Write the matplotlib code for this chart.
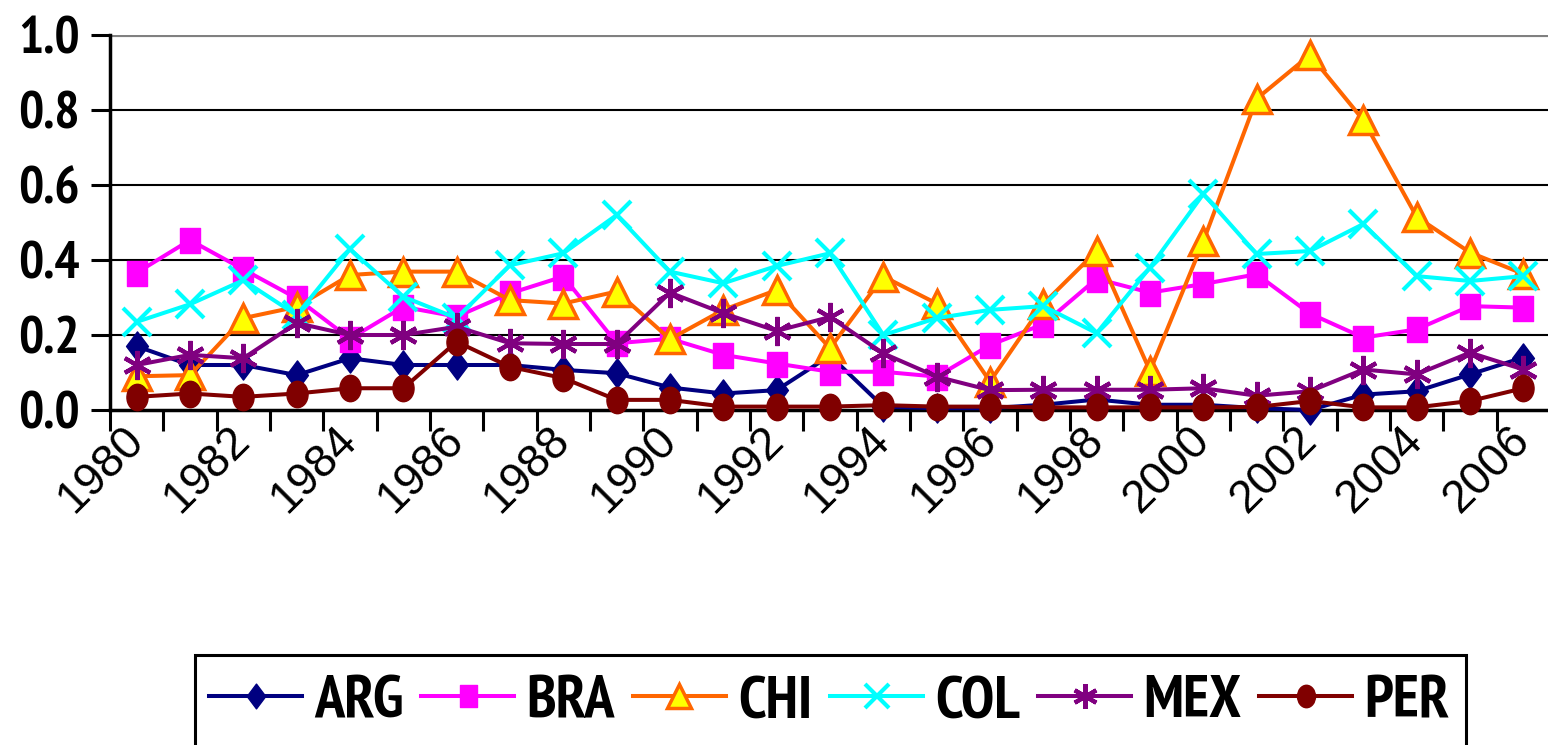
import matplotlib
matplotlib.use("Agg")
import matplotlib.pyplot as plt
from matplotlib.path import Path
from matplotlib.patches import Rectangle
from matplotlib import font_manager as fm
import numpy as np

years = list(range(1980, 2007))
ARG = [0.17,0.12,0.12,0.093,0.138,0.12,0.12,0.12,0.107,0.098,0.06,0.044,0.053,0.145,0.009,0.005,0.005,0.014,0.028,0.014,0.014,0.005,0.0,0.041,0.05,0.095,0.14]
BRA = [0.366,0.453,0.375,0.298,0.19,0.275,0.249,0.311,0.356,0.178,0.19,0.147,0.124,0.102,0.102,0.089,0.173,0.229,0.35,0.313,0.336,0.362,0.257,0.193,0.215,0.277,0.273]
CHI = [0.09,0.093,0.245,0.275,0.36,0.369,0.369,0.293,0.284,0.316,0.189,0.267,0.32,0.165,0.356,0.284,0.076,0.283,0.424,0.104,0.45,0.83,0.947,0.773,0.515,0.42,0.363]
COL = [0.235,0.282,0.346,0.253,0.429,0.302,0.245,0.386,0.418,0.52,0.369,0.338,0.384,0.418,0.2,0.245,0.267,0.277,0.205,0.38,0.576,0.416,0.424,0.496,0.357,0.344,0.357]
MEX = [0.12,0.147,0.138,0.232,0.2,0.2,0.222,0.178,0.176,0.176,0.313,0.258,0.211,0.248,0.151,0.089,0.053,0.054,0.054,0.054,0.058,0.038,0.05,0.108,0.095,0.153,0.108]
PER = [0.035,0.044,0.035,0.044,0.058,0.058,0.182,0.115,0.085,0.027,0.027,0.009,0.009,0.009,0.013,0.009,0.009,0.007,0.007,0.007,0.007,0.008,0.024,0.007,0.007,0.024,0.058]
series_names = ["ARG", "BRA", "CHI", "COL", "MEX", "PER"]
y_ticks = [0.0, 0.2, 0.4, 0.6, 0.8, 1.0]

# look for an upright condensed bold font (the original text is horizontally compressed)
cond_file = None
best = -1
for f in fm.fontManager.ttflist:
    nm = f.name.lower()
    stt = str(f.stretch).lower()
    if str(f.style).lower() != "normal":
        continue
    fn = f.fname.lower()
    if "italic" in fn or "oblique" in fn:
        continue
    is_cond = ("narrow" in nm or "condensed" in nm or "condensed" in fn or "narrow" in fn
               or stt in ("condensed", "semi-condensed", "extra-condensed"))
    if not is_cond:
        continue
    try:
        w = int(f.weight)
    except (TypeError, ValueError):
        w = {"bold": 700, "semibold": 600, "heavy": 800, "black": 900}.get(str(f.weight).lower(), 400)
    if w < 600:
        continue
    score = 0
    if "narrow" in nm or "narrow" in fn:
        score += 10
    if w == 700:
        score += 5
    if score > best:
        best, cond_file = score, f.fname
if cond_file:
    bold_prop = dict(fname=cond_file)
else:
    bold_prop = dict(family=["Liberation Sans", "DejaVu Sans"], weight="bold")

diamond = Path([(0, 1), (0.75, 0), (0, -1), (-0.75, 0), (0, 1)],
               [Path.MOVETO, Path.LINETO, Path.LINETO, Path.LINETO, Path.CLOSEPOLY])
square = Path([(-0.8, -1), (0.8, -1), (0.8, 1), (-0.8, 1), (-0.8, -1)],
              [Path.MOVETO, Path.LINETO, Path.LINETO, Path.LINETO, Path.CLOSEPOLY])
circ = Path.unit_circle()
ellipse = Path(circ.vertices * np.array([0.8, 1.0]), circ.codes)

styles = {
    "ARG": dict(color="#000080", marker=diamond, ms=21, mfc="#000080", mec="#000080", mew=1),
    "BRA": dict(color="#FF00FF", marker=square, ms=18, mfc="#FF00FF", mec="#FF00FF", mew=1),
    "CHI": dict(color="#FF6600", marker="^", ms=20, mfc="#FFFF00", mec="#FF6600", mew=2.5),
    "COL": dict(color="#00FFFF", marker="x", ms=20, mfc="#00FFFF", mec="#00FFFF", mew=3),
    "MEX": dict(color="#800080", marker=(6, 2, 0), ms=21, mfc="#800080", mec="#800080", mew=3),
    "PER": dict(color="#800000", marker=ellipse, ms=19, mfc="#800000", mec="#800000", mew=1),
}
data = {"ARG": ARG, "BRA": BRA, "CHI": CHI, "COL": COL, "MEX": MEX, "PER": PER}

W, H = 1548, 745
fig = plt.figure(figsize=(W / 100, H / 100), dpi=100)
ax = fig.add_axes([110 / W, (H - 410) / H, 1440 / W, 375 / H])

x = np.arange(len(years))
for name in series_names:
    st = styles[name]
    ax.plot(x, data[name], color=st["color"], lw=2.9, marker=st["marker"], ms=st["ms"],
            mfc=st["mfc"], mec=st["mec"], mew=st["mew"], label=name, clip_on=False, zorder=3)

ax.set_xlim(-0.5, len(years) - 0.5)
ax.set_ylim(0, 1.0)
ax.set_yticks(y_ticks)
ylab = ax.set_yticklabels([f"{v:.1f}" for v in y_ticks])
for t in ylab:
    t.set_fontproperties(fm.FontProperties(size=38 if cond_file else 34, **bold_prop))
for v in y_ticks[1:-1]:
    ax.axhline(v, color="black", lw=1.5, zorder=1)
ax.axhline(1.0, color="#808080", lw=3, zorder=1)

ax.set_xticks(x[::2])
ax.set_xticklabels([str(y) for y in years[::2]], rotation=45, ha="right", va="center",
                   rotation_mode="anchor", fontsize=33, family=["Liberation Sans", "DejaVu Sans"])
ax.set_xticks(np.arange(-0.5, len(years), 1.0), minor=True)
ax.tick_params(axis="x", which="major", length=0, pad=17)
ax.tick_params(axis="x", which="minor", length=15, width=2.2, direction="out")
ax.tick_params(axis="y", length=14, width=2.2, direction="out", pad=8)

for s in ["top", "right"]:
    ax.spines[s].set_visible(False)
ax.spines["left"].set_linewidth(2.5)
ax.spines["bottom"].set_linewidth(2.5)

# legend box: runs from y=655 px down past the bottom edge of the figure
box_left, box_right, box_top = 195, 1466, 655
fig.patches.append(Rectangle((box_left / W, -0.05), (box_right - box_left) / W,
                             (1 - box_top / H) + 0.05, transform=fig.transFigure,
                             fill=False, edgecolor="black", lw=2.2, clip_on=False))

# legend entries: handle ~93 px, handle->text ~12 px, entry gap ~18 px, pad ~14 px
target_w = box_right - box_left
leg = None
for size in np.arange(44, 20, -0.5):
    if leg is not None:
        leg.remove()
    fpx = size * 100 / 72.0
    leg = fig.legend(loc="center left", bbox_to_anchor=(box_left / W, 1 - 702 / H), ncol=6,
                     prop=fm.FontProperties(size=size, **bold_prop),
                     frameon=False,
                     handlelength=93 / fpx, handletextpad=12 / fpx, columnspacing=18 / fpx,
                     borderpad=14 / fpx, borderaxespad=0, markerscale=0.85)
    fig.canvas.draw()
    if leg.get_window_extent().width <= target_w:
        break

fig.savefig("out.png", dpi=100)
